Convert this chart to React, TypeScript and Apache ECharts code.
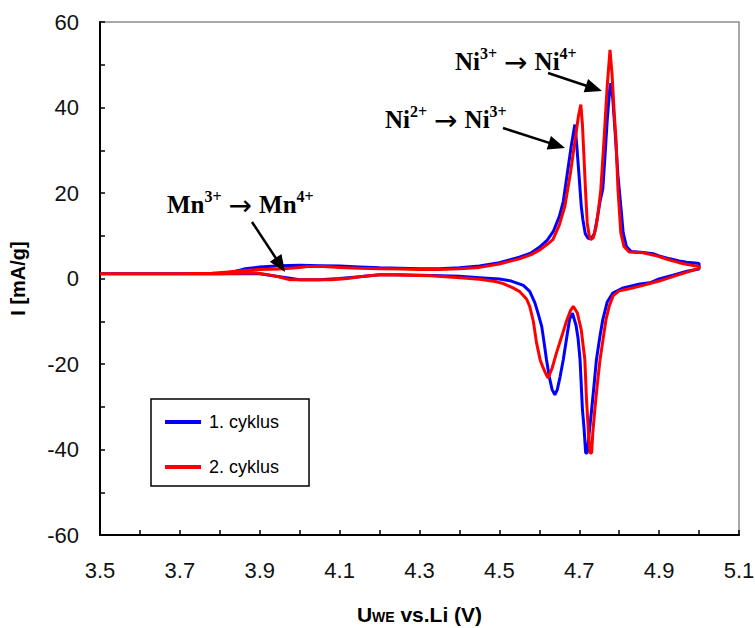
import React, { useEffect, useRef } from "react";
import * as echarts from "echarts";

// ---- Data (U [V], I [mA/g]) ----
const cycle1Anodic: [number, number][] = [
  [3.83, 1.5], [3.86, 2.2], [3.9, 2.7], [3.95, 3.0], [4.0, 3.1], [4.05, 3.0], [4.1, 2.9],
  [4.15, 2.7], [4.2, 2.5], [4.25, 2.4], [4.3, 2.3], [4.35, 2.3], [4.4, 2.5], [4.45, 2.9],
  [4.5, 3.7], [4.55, 5.0], [4.58, 6.0], [4.6, 7.3], [4.62, 9.0], [4.635, 11.0], [4.65, 14.5],
  [4.66, 18.0], [4.67, 24.5], [4.68, 31], [4.689, 36], [4.693, 32], [4.699, 24.7], [4.705, 17],
  [4.709, 13.8], [4.715, 10.5], [4.722, 9.4], [4.73, 9.3], [4.738, 10.5], [4.745, 14],
  [4.752, 18], [4.759, 21], [4.764, 28], [4.77, 37], [4.776, 44], [4.779, 45.7], [4.784, 42],
  [4.79, 34], [4.797, 24], [4.805, 16], [4.81, 10.7], [4.818, 7.5], [4.83, 6.3], [4.86, 6.1],
  [4.885, 5.8], [4.9, 5.3], [4.927, 4.6], [4.95, 4.1], [4.969, 3.8], [4.99, 3.6], [5.0, 3.5],
];
const cycle1Cathodic: [number, number][] = [
  [5.0, 2.2], [4.97, 1.7], [4.935, 0.8], [4.9, -0.1], [4.877, -1.0], [4.852, -1.3], [4.81, -2.2],
  [4.784, -3.4], [4.77, -5.5], [4.759, -9.6], [4.751, -14], [4.743, -19], [4.737, -25],
  [4.731, -30.7], [4.725, -36], [4.72, -40.8], [4.716, -40.8], [4.712, -35], [4.708, -30.7],
  [4.702, -19], [4.697, -14], [4.692, -11], [4.683, -8.1], [4.676, -9.5], [4.67, -13],
  [4.66, -19], [4.652, -23], [4.645, -26], [4.639, -27.2], [4.632, -26], [4.625, -23],
  [4.618, -19], [4.612, -15], [4.606, -11.2], [4.598, -8.5], [4.589, -5.7], [4.576, -3.0],
  [4.56, -1.6], [4.53, -0.6], [4.5, -0.1], [4.45, 0.2], [4.4, 0.5], [4.33, 0.7], [4.25, 0.9],
  [4.2, 0.9], [4.15, 0.4], [4.1, 0.0], [4.05, -0.3], [4.0, -0.3], [3.95, 0.4], [3.9, 1.1],
  [3.85, 1.1], [3.8, 1.1], [3.7, 1.1], [3.6, 1.1], [3.5, 1.1],
];
const cycle2Anodic: [number, number][] = [
  [3.5, 1.1], [3.6, 1.1], [3.7, 1.1], [3.78, 1.2], [3.82, 1.5], [3.86, 1.9], [3.9, 2.1],
  [3.95, 2.2], [4.0, 2.6], [4.02, 2.8], [4.06, 2.8], [4.1, 2.6], [4.15, 2.4], [4.2, 2.3],
  [4.25, 2.2], [4.3, 2.1], [4.35, 2.1], [4.4, 2.3], [4.45, 2.6], [4.5, 3.4], [4.55, 4.6],
  [4.58, 5.6], [4.6, 6.6], [4.62, 8.0], [4.634, 9.1], [4.65, 12.5], [4.664, 16.9],
  [4.678, 24.7], [4.689, 32], [4.698, 38], [4.704, 40.7], [4.708, 36], [4.712, 28],
  [4.716, 20], [4.72, 13], [4.725, 10], [4.729, 9.1], [4.735, 9.5], [4.742, 12], [4.748, 16],
  [4.754, 20.8], [4.762, 32.5], [4.77, 45], [4.777, 53.5], [4.782, 48], [4.788, 38],
  [4.792, 32.5], [4.797, 20.8], [4.804, 10.7], [4.812, 7.5], [4.825, 6.2], [4.86, 6.0],
  [4.89, 5.4], [4.92, 4.5], [4.95, 3.7], [4.975, 3.2], [5.0, 2.8],
];
const cycle2Cathodic: [number, number][] = [
  [5.0, 2.4], [4.97, 1.5], [4.94, 0.6], [4.9, -0.6], [4.86, -1.6], [4.82, -2.5], [4.8, -2.9],
  [4.785, -4], [4.775, -6.5], [4.767, -9.6], [4.76, -14], [4.752, -19], [4.745, -25],
  [4.739, -30.7], [4.734, -36], [4.731, -40.8], [4.727, -40.8], [4.723, -36], [4.718, -28],
  [4.714, -19], [4.705, -12], [4.695, -8], [4.685, -6.5], [4.678, -7.5], [4.668, -10],
  [4.659, -12.7], [4.643, -17.4], [4.632, -21], [4.622, -23.3], [4.615, -22], [4.608, -20.5],
  [4.602, -19], [4.593, -15], [4.585, -10], [4.576, -6.5], [4.568, -4.8], [4.55, -3],
  [4.534, -2.2], [4.51, -1.2], [4.49, -0.7], [4.45, -0.2], [4.41, 0.1], [4.33, 0.65],
  [4.2, 0.9], [4.15, 0.4], [4.12, 0.0], [4.08, -0.3], [4.0, -0.3], [3.976, -0.3],
  [3.942, 0.5], [3.92, 0.9], [3.892, 1.3], [3.85, 1.2], [3.8, 1.1], [3.7, 1.1], [3.6, 1.1],
  [3.5, 1.1],
];
const seriesNames = ["1. cyklus", "2. cyklus"];
const seriesColors = ["#0000ff", "#ff0000"];
const xMin = 3.5;
const xMax = 5.1;
const yMin = -60;
const yMax = 60;

const SANS = "'Liberation Sans', Arial, sans-serif";
const SERIF = "'Liberation Serif', 'Times New Roman', serif";

function arrow(x1: number, y1: number, x2: number, y2: number) {
  const dx = x2 - x1;
  const dy = y2 - y1;
  const len = Math.sqrt(dx * dx + dy * dy);
  const ux = dx / len;
  const uy = dy / len;
  const head = 17;
  const hw = 7;
  const bx = x2 - ux * head;
  const by = y2 - uy * head;
  return [
    {
      type: "line",
      shape: { x1, y1, x2: bx + ux * 2, y2: by + uy * 2 },
      style: { stroke: "#000", lineWidth: 2.5 },
      z: 100,
    },
    {
      type: "polygon",
      shape: {
        points: [
          [x2, y2],
          [bx - uy * hw, by + ux * hw],
          [bx + uy * hw, by - ux * hw],
        ],
      },
      style: { fill: "#000" },
      z: 100,
    },
  ];
}

const annRich = {
  m: { fontSize: 25, fontWeight: "bold", fontFamily: SERIF, color: "#000" },
  s: { fontSize: 16, fontWeight: "bold", fontFamily: SERIF, color: "#000", padding: [0, 0, 15, 0] },
  r: { fontSize: 28, fontFamily: "DejaVu Sans", color: "#000", padding: [2, 7, 0, 7] },
};

function annotation(x: number, y: number, text: string) {
  return {
    type: "text",
    x,
    y,
    z: 100,
    style: {
      text,
      rich: annRich,
      align: "left",
      verticalAlign: "middle",
      fill: "#000",
    },
  };
}

export default function App() {
  const ref = useRef<HTMLDivElement>(null);
  useEffect(() => {
    if (!ref.current) return;
    const chart = echarts.init(ref.current, null, { renderer: "svg" });
    const data1 = [...cycle1Anodic, ...cycle1Cathodic];
    const data2 = [...cycle2Anodic, ...cycle2Cathodic];
    const option: any = {
      animation: false,
      backgroundColor: "#ffffff",
      grid: {
        left: 100,
        right: 16,
        top: 22,
        bottom: 93,
        show: true,
        containLabel: false,
        outerBoundsMode: "none",
        borderColor: "#8c8c8c",
        borderWidth: 1.5,
        backgroundColor: "transparent",
      },
      legend: {
        orient: "vertical",
        left: 151,
        top: 399,
        icon: "rect",
        itemWidth: 36,
        itemHeight: 4,
        itemGap: 27,
        padding: [14, 30, 10, 14],
        borderColor: "#000",
        borderWidth: 1.5,
        backgroundColor: "#fff",
        textStyle: { fontSize: 18, fontFamily: SANS, color: "#000", padding: [0, 0, 0, 3] },
        data: seriesNames,
      },
      xAxis: {
        type: "value",
        min: xMin,
        max: xMax,
        interval: 0.1,
        name: "{a|U}{b|WE}{a| vs.Li (V)}",
        nameLocation: "middle",
        nameGap: 69,
        nameTextStyle: {
          rich: {
            a: { fontSize: 21, fontWeight: "bold", fontFamily: SANS, color: "#000" },
            b: { fontSize: 14, fontWeight: "bold", fontFamily: SANS, color: "#000", padding: [5, 0, 0, 0] },
          },
        },
        axisLine: { show: true, onZero: false, lineStyle: { color: "#000", width: 2 } },
        axisTick: { show: true, inside: true, length: 5, lineStyle: { color: "#000", width: 1.5 } },
        axisLabel: {
          fontSize: 22,
          fontFamily: SANS,
          color: "#111",
          margin: 24,
          showMinLabel: true,
          showMaxLabel: true,
          formatter: (v: number) => {
            const k = Math.round((v - xMin) * 10);
            return k % 2 === 0 ? v.toFixed(1) : "";
          },
        },
        splitLine: { show: false },
      },
      yAxis: {
        type: "value",
        min: yMin,
        max: yMax,
        interval: 10,
        name: "I [mA/g]",
        nameLocation: "middle",
        nameRotate: 90,
        nameGap: 72,
        nameTextStyle: { fontSize: 20, fontWeight: "bold", fontFamily: SANS, color: "#000" },
        axisLine: { show: true, onZero: false, lineStyle: { color: "#000", width: 2 } },
        axisTick: { show: true, inside: true, length: 5, lineStyle: { color: "#000", width: 1.5 } },
        axisLabel: {
          fontSize: 22,
          fontFamily: SANS,
          color: "#111",
          margin: 21,
          formatter: (v: number) => (Math.round(v) % 20 === 0 ? String(Math.round(v)) : ""),
        },
        splitLine: { show: false },
      },
      series: [
        {
          type: "line",
          name: seriesNames[0],
          data: data1,
          showSymbol: false,
          symbol: "none",
          lineStyle: { color: seriesColors[0], width: 3 },
          itemStyle: { color: seriesColors[0] },
          z: 2,
        },
        {
          type: "line",
          name: seriesNames[1],
          data: data2,
          showSymbol: false,
          symbol: "none",
          lineStyle: { color: seriesColors[1], width: 3 },
          itemStyle: { color: seriesColors[1] },
          z: 3,
        },
      ],
      graphic: [
        annotation(167, 204, "{m|Mn}{s|3+}{r|\u2192}{m|Mn}{s|4+}"),
        annotation(455, 61, "{m|Ni}{s|3+}{r|\u2192}{m|Ni}{s|4+}"),
        annotation(385, 119, "{m|Ni}{s|2+}{r|\u2192}{m|Ni}{s|3+}"),
        ...arrow(252, 222, 285, 272),
        ...arrow(503, 128, 565, 148),
        ...arrow(548, 73, 602, 91),
      ],
    };
    chart.setOption(option);
    return () => chart.dispose();
  }, []);
  return (
    <div
      ref={ref}
      style={{ position: "fixed", left: 0, top: 0, width: 755, height: 628, background: "#fff" }}
    />
  );
}
